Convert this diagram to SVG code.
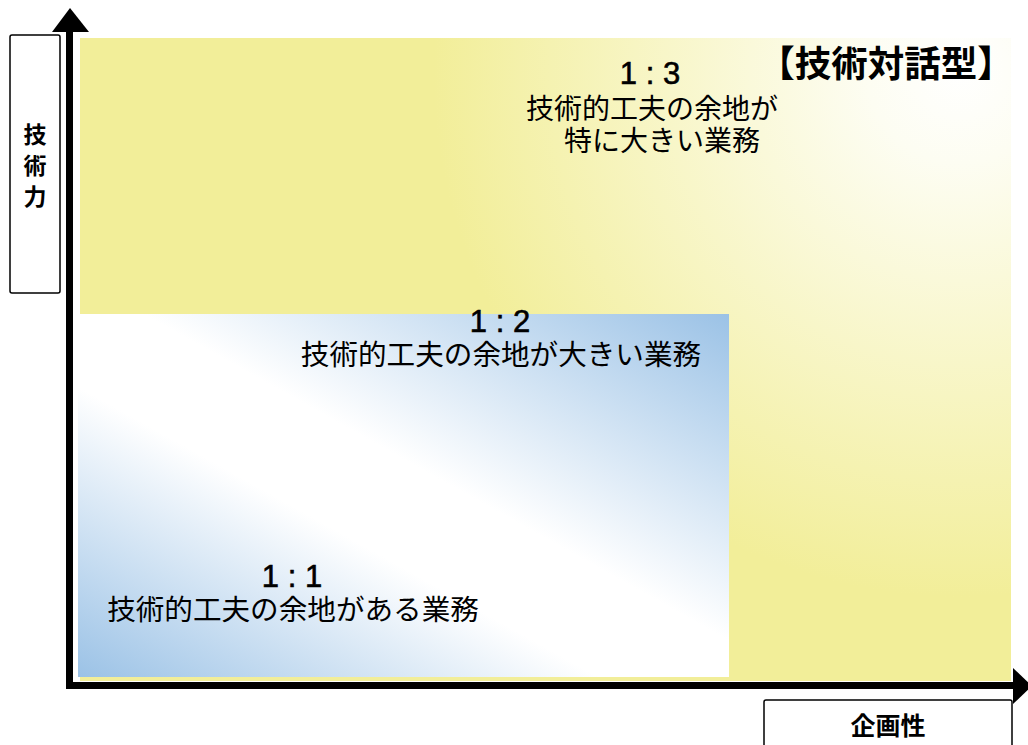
<svg xmlns="http://www.w3.org/2000/svg" width="1028" height="745" viewBox="0 0 1028 745">
<defs>
<radialGradient id="gy" gradientUnits="userSpaceOnUse" cx="960" cy="70" r="620">
<stop offset="0" stop-color="#ffffff"/>
<stop offset="0.15" stop-color="#fdfdf2"/>
<stop offset="0.85" stop-color="#f2ee99"/>
<stop offset="1" stop-color="#f2ee99"/>
</radialGradient>
<linearGradient id="gb" x1="1" y1="0" x2="0" y2="1">
<stop offset="0" stop-color="#9bc2e6"/>
<stop offset="0.45" stop-color="#ffffff"/>
<stop offset="0.6" stop-color="#ffffff"/>
<stop offset="1" stop-color="#9bc2e6"/>
</linearGradient>
</defs>
<style>
.t{font-family:"Noto Sans CJK JP","Liberation Sans",sans-serif;fill:#000;text-anchor:middle}
.n{font-family:"Liberation Sans","Noto Sans CJK JP",sans-serif;font-size:31px;fill:#000;stroke:#000;stroke-width:0.6;text-anchor:middle}
.b{font-weight:bold}
.box{fill:#fff;stroke:#000;stroke-width:1.5}
</style>
<rect width="1028" height="745" fill="#fff"/>
<g id="area-1-3">
<rect x="80" y="38" width="931" height="643" fill="url(#gy)"/>
<text class="n" x="650" y="84">1 : 3</text>
<text class="t" x="652" y="119" font-size="28">技術的工夫の余地が</text>
<text class="t" x="662" y="151" font-size="28">特に大きい業務</text>
</g>
<g id="area-1-2">
<rect x="78" y="314" width="651" height="363" fill="url(#gb)"/>
<text class="n" x="500" y="332">1 : 2</text>
<text class="t" x="501" y="365" font-size="28.6">技術的工夫の余地が大きい業務</text>
</g>
<g id="area-1-1">
<text class="n" x="292" y="587">1 : 1</text>
<text class="t" x="293" y="620" font-size="28.6">技術的工夫の余地がある業務</text>
</g>
<g id="title">
<text class="t b" x="886" y="77" font-size="36.5">【技術対話型】</text>
</g>
<g id="connectors">
<rect x="66" y="30" width="7" height="659"/>
<polygon points="70,8 52,32 89,32"/>
<rect x="66" y="682" width="950" height="7"/>
<polygon points="1032,686 1013,668 1013,704"/>
</g>
<g id="label-y">
<rect class="box" x="10" y="35" width="50" height="258" rx="2"/>
<text class="t b" x="35" y="143" font-size="23">技</text>
<text class="t b" x="35" y="174" font-size="23">術</text>
<text class="t b" x="35" y="205" font-size="23">力</text>
</g>
<g id="label-x">
<rect class="box" x="764" y="700" width="248" height="60" rx="2"/>
<text class="t b" x="888" y="735" font-size="25">企画性</text>
</g>
</svg>
